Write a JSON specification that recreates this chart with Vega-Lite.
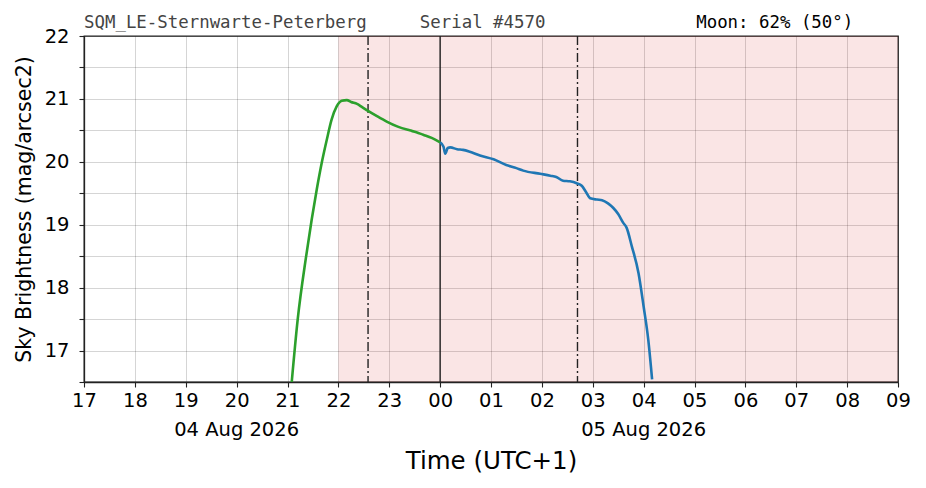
{
  "$schema": "https://vega.github.io/schema/vega-lite/v6.json",
  "description": "SQM sky brightness over one night, with the night period shaded.",
  "autosize": "none",
  "width": 814,
  "height": 346,
  "padding": {"left": 84, "top": 36, "right": 28, "bottom": 106},
  "config": {
    "font": "DejaVu Sans",
    "view": {"stroke": "#222", "strokeWidth": 1.3},
    "axis": {
      "domainColor": "#222",
      "domainWidth": 1.3,
      "tickColor": "#222",
      "tickWidth": 1.1,
      "labelFont": "DejaVu Sans",
      "labelColor": "#000",
      "labelFontSize": 19.5,
      "titleFont": "DejaVu Sans",
      "titleFontWeight": "normal",
      "titleColor": "#000",
      "gridColor": "#000",
      "gridOpacity": 0.28,
      "gridWidth": 0.6
    }
  },
  "resolve": {"scale": {"color": "independent"}},
  "datasets": {
    "sqm": [
      {"t": "2026-08-04T21:05:00Z", "mag": 16.5, "part": "evening"},
      {"t": "2026-08-04T21:12:00Z", "mag": 17.49, "part": "evening"},
      {"t": "2026-08-04T21:22:00Z", "mag": 18.5, "part": "evening"},
      {"t": "2026-08-04T21:28:30Z", "mag": 19.08, "part": "evening"},
      {"t": "2026-08-04T21:34:30Z", "mag": 19.56, "part": "evening"},
      {"t": "2026-08-04T21:40:20Z", "mag": 19.98, "part": "evening"},
      {"t": "2026-08-04T21:46:20Z", "mag": 20.35, "part": "evening"},
      {"t": "2026-08-04T21:52:00Z", "mag": 20.67, "part": "evening"},
      {"t": "2026-08-04T21:58:00Z", "mag": 20.88, "part": "evening"},
      {"t": "2026-08-04T22:04:00Z", "mag": 20.97, "part": "evening"},
      {"t": "2026-08-04T22:10:00Z", "mag": 20.98, "part": "evening"},
      {"t": "2026-08-04T22:15:00Z", "mag": 20.95, "part": "evening"},
      {"t": "2026-08-04T22:22:00Z", "mag": 20.92, "part": "evening"},
      {"t": "2026-08-04T22:28:00Z", "mag": 20.87, "part": "evening"},
      {"t": "2026-08-04T22:35:00Z", "mag": 20.81, "part": "evening"},
      {"t": "2026-08-04T22:45:00Z", "mag": 20.73, "part": "evening"},
      {"t": "2026-08-04T22:57:00Z", "mag": 20.64, "part": "evening"},
      {"t": "2026-08-04T23:10:00Z", "mag": 20.56, "part": "evening"},
      {"t": "2026-08-04T23:24:00Z", "mag": 20.5, "part": "evening"},
      {"t": "2026-08-04T23:32:00Z", "mag": 20.47, "part": "evening"},
      {"t": "2026-08-04T23:40:00Z", "mag": 20.43, "part": "evening"},
      {"t": "2026-08-04T23:50:00Z", "mag": 20.38, "part": "evening"},
      {"t": "2026-08-05T00:00:00Z", "mag": 20.31, "part": "evening"},
      {"t": "2026-08-05T00:00:00Z", "mag": 20.31, "part": "morning"},
      {"t": "2026-08-05T00:04:00Z", "mag": 20.24, "part": "morning"},
      {"t": "2026-08-05T00:06:00Z", "mag": 20.13, "part": "morning"},
      {"t": "2026-08-05T00:09:00Z", "mag": 20.22, "part": "morning"},
      {"t": "2026-08-05T00:12:00Z", "mag": 20.23, "part": "morning"},
      {"t": "2026-08-05T00:20:00Z", "mag": 20.2, "part": "morning"},
      {"t": "2026-08-05T00:27:00Z", "mag": 20.19, "part": "morning"},
      {"t": "2026-08-05T00:35:00Z", "mag": 20.16, "part": "morning"},
      {"t": "2026-08-05T00:47:00Z", "mag": 20.1, "part": "morning"},
      {"t": "2026-08-05T01:03:00Z", "mag": 20.04, "part": "morning"},
      {"t": "2026-08-05T01:18:00Z", "mag": 19.95, "part": "morning"},
      {"t": "2026-08-05T01:30:00Z", "mag": 19.9, "part": "morning"},
      {"t": "2026-08-05T01:38:00Z", "mag": 19.86, "part": "morning"},
      {"t": "2026-08-05T01:58:00Z", "mag": 19.81, "part": "morning"},
      {"t": "2026-08-05T02:10:00Z", "mag": 19.78, "part": "morning"},
      {"t": "2026-08-05T02:17:00Z", "mag": 19.76, "part": "morning"},
      {"t": "2026-08-05T02:25:00Z", "mag": 19.7, "part": "morning"},
      {"t": "2026-08-05T02:33:00Z", "mag": 19.69, "part": "morning"},
      {"t": "2026-08-05T02:41:00Z", "mag": 19.66, "part": "morning"},
      {"t": "2026-08-05T02:47:00Z", "mag": 19.62, "part": "morning"},
      {"t": "2026-08-05T02:52:00Z", "mag": 19.52, "part": "morning"},
      {"t": "2026-08-05T02:57:00Z", "mag": 19.42, "part": "morning"},
      {"t": "2026-08-05T03:05:00Z", "mag": 19.4, "part": "morning"},
      {"t": "2026-08-05T03:11:00Z", "mag": 19.39, "part": "morning"},
      {"t": "2026-08-05T03:18:00Z", "mag": 19.34, "part": "morning"},
      {"t": "2026-08-05T03:24:00Z", "mag": 19.27, "part": "morning"},
      {"t": "2026-08-05T03:30:00Z", "mag": 19.17, "part": "morning"},
      {"t": "2026-08-05T03:36:00Z", "mag": 19.03, "part": "morning"},
      {"t": "2026-08-05T03:40:00Z", "mag": 18.95, "part": "morning"},
      {"t": "2026-08-05T03:46:00Z", "mag": 18.66, "part": "morning"},
      {"t": "2026-08-05T03:54:00Z", "mag": 18.23, "part": "morning"},
      {"t": "2026-08-05T04:00:00Z", "mag": 17.7, "part": "morning"},
      {"t": "2026-08-05T04:05:30Z", "mag": 17.17, "part": "morning"},
      {"t": "2026-08-05T04:10:00Z", "mag": 16.54, "part": "morning"}
    ],
    "night": [
      {"start": "2026-08-04T22:00:00Z", "end": "2026-08-05T09:00:00Z", "lo": 16.5, "hi": 22}
    ],
    "markers": [
      {"t": "2026-08-04T22:35:00Z", "kind": "twilight"},
      {"t": "2026-08-05T00:00:00Z", "kind": "midnight"},
      {"t": "2026-08-05T02:42:00Z", "kind": "twilight"}
    ],
    "dates": [
      {"t": "2026-08-04T20:00:00Z", "mag": 16.5, "label": "04 Aug 2026"},
      {"t": "2026-08-05T04:00:00Z", "mag": 16.5, "label": "05 Aug 2026"}
    ],
    "header": [
      {"t": "2026-08-04T17:00:00Z", "mag": 22, "label": "SQM_LE-Sternwarte-Peterberg", "kind": "site"},
      {"t": "2026-08-04T23:36:00Z", "mag": 22, "label": "Serial #4570", "kind": "site"},
      {"t": "2026-08-05T05:02:00Z", "mag": 22, "label": "Moon: 62% (50°)", "kind": "moon"}
    ]
  },
  "layer": [
    {
      "data": {"name": "night"},
      "mark": {"type": "rect", "color": "#cc0000", "opacity": 0.1},
      "encoding": {
        "x": {
          "field": "start",
          "type": "temporal",
          "scale": {
            "type": "utc",
            "domain": [
              {"year": 2026, "month": 8, "date": 4, "hours": 17, "utc": true},
              {"year": 2026, "month": 8, "date": 5, "hours": 9, "utc": true}
            ],
            "nice": false
          },
          "axis": {
            "title": "Time (UTC+1)",
            "titleFontSize": 24.5,
            "titlePadding": 40,
            "format": "%H",
            "labelPadding": 4,
            "labelFlush": false,
            "labelOverlap": false,
            "tickSize": 5
          }
        },
        "x2": {"field": "end"},
        "y": {
          "field": "lo",
          "type": "quantitative",
          "scale": {"domain": [16.5, 22], "nice": false, "zero": false},
          "axis": {
            "title": "Sky Brightness (mag/arcsec2)",
            "titleFontSize": 20.5,
            "titlePadding": 10,
            "tickCount": 12,
            "format": ".0f",
            "labelExpr": "floor(datum.value) == datum.value ? datum.label : ''",
            "labelPadding": 10,
            "labelFlush": false,
            "labelOverlap": false,
            "tickSize": 5
          }
        },
        "y2": {"field": "hi"}
      }
    },
    {
      "data": {"name": "markers"},
      "mark": {"type": "rule", "color": "#222", "strokeWidth": 1.4},
      "encoding": {
        "x": {"field": "t", "type": "temporal"},
        "strokeDash": {
          "field": "kind",
          "type": "nominal",
          "scale": {"domain": ["twilight", "midnight"], "range": [[9, 3, 2, 3], [1, 0]]},
          "legend": null
        }
      }
    },
    {
      "data": {"name": "sqm"},
      "mark": {"type": "line", "strokeWidth": 2.6, "interpolate": "monotone"},
      "encoding": {
        "x": {"field": "t", "type": "temporal"},
        "y": {"field": "mag", "type": "quantitative"},
        "color": {
          "field": "part",
          "type": "nominal",
          "scale": {"domain": ["evening", "morning"], "range": ["#2ca02c", "#1f77b4"]},
          "legend": null
        }
      }
    },
    {
      "data": {"name": "dates"},
      "mark": {"type": "text", "font": "DejaVu Sans", "fontSize": 19.5, "color": "#000", "align": "center", "baseline": "middle", "dy": 48},
      "encoding": {
        "x": {"field": "t", "type": "temporal"},
        "y": {"field": "mag", "type": "quantitative"},
        "text": {"field": "label"}
      }
    },
    {
      "data": {"name": "header"},
      "mark": {"type": "text", "font": "DejaVu Sans Mono", "fontSize": 17.4, "align": "left", "baseline": "alphabetic", "dy": -8},
      "encoding": {
        "x": {"field": "t", "type": "temporal"},
        "y": {"field": "mag", "type": "quantitative"},
        "text": {"field": "label"},
        "color": {
          "field": "kind",
          "type": "nominal",
          "scale": {"domain": ["site", "moon"], "range": ["#444444", "#000000"]},
          "legend": null
        }
      }
    }
  ]
}
